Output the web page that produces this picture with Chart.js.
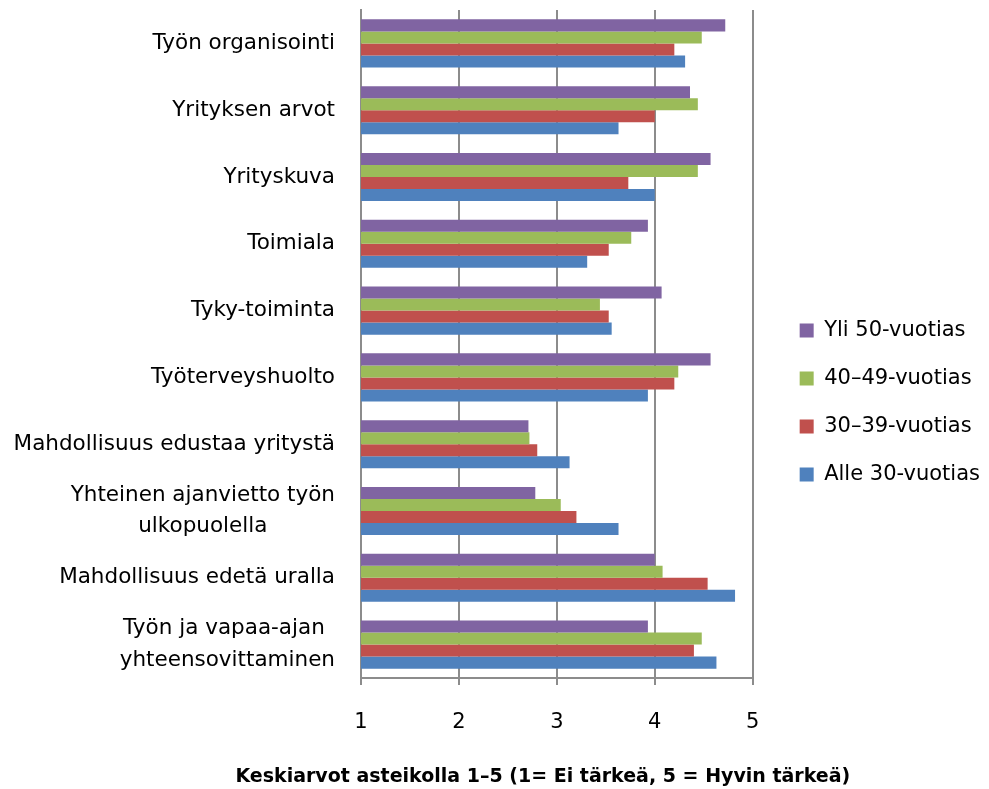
<!DOCTYPE html>
<html>
<head>
<meta charset="utf-8">
<script src="https://cdn.jsdelivr.net/npm/chart.js@4.4.1/dist/chart.umd.min.js"></script>
<style>
  html, body { margin: 0; padding: 0; background: #ffffff; }
  #wrap { width: 989px; height: 789px; }
</style>
</head>
<body>
<div id="wrap"><canvas id="chart" width="989" height="789"></canvas></div>
<script>
// Categories, top to bottom (multi-line labels as arrays)
const categories = [
  'Työn organisointi',
  'Yrityksen arvot',
  'Yrityskuva',
  'Toimiala',
  'Tyky-toiminta',
  'Työterveyshuolto',
  'Mahdollisuus edustaa yritystä',
  ['Yhteinen ajanvietto työn', 'ulkopuolella'],
  'Mahdollisuus edetä uralla',
  ['Työn ja vapaa-ajan ', 'yhteensovittaminen']
];

const seriesNames = ['Yli 50-vuotias', '40–49-vuotias', '30–39-vuotias', 'Alle 30-vuotias'];

// Mean scores per age group
const yli50   = [4.72, 4.36, 4.57, 3.93, 4.07, 4.57, 2.71, 2.78, 4.00, 3.93];
const v40_49  = [4.48, 4.44, 4.44, 3.76, 3.44, 4.24, 2.72, 3.04, 4.08, 4.48];
const v30_39  = [4.20, 4.00, 3.73, 3.53, 3.53, 4.20, 2.80, 3.20, 4.54, 4.40];
const alle30  = [4.31, 3.63, 4.00, 3.31, 3.56, 3.93, 3.13, 3.63, 4.82, 4.63];

const xTicks = [1, 2, 3, 4, 5];
const axisTitle = 'Keskiarvot asteikolla 1–5 (1= Ei tärkeä, 5 = Hyvin tärkeä)';

const FONT = '"DejaVu Sans", "Liberation Sans", sans-serif';
const GRID = '#8c8c8c';
const colors = ['#8064A2', '#9BBB59', '#C0504D', '#4F81BD'];
const seriesValues = [yli50, v40_49, v30_39, alle30];

// Category labels (each multi-line label centred as a block, block right-aligned)
// and the value-axis title, which is wider than the plot itself
const axisTexts = {
  id: 'axisTexts',
  afterDraw(chart) {
    const scale = chart.scales.y;
    const ctx = chart.ctx;
    const right = scale.right - 26;
    const lineH = 31.5;
    ctx.save();
    ctx.font = '21.5px ' + FONT;
    ctx.fillStyle = '#000000';
    ctx.textBaseline = 'middle';
    ctx.textAlign = 'center';
    categories.forEach((label, i) => {
      const lines = Array.isArray(label) ? label : [label];
      const w = Math.max(...lines.map(l => ctx.measureText(l).width));
      const cx = right - w / 2;
      const y0 = scale.getPixelForTick(i) - (lines.length - 1) * lineH / 2;
      lines.forEach((l, k) => ctx.fillText(l, cx, y0 + k * lineH));
    });

    const xs = chart.scales.x;
    ctx.font = 'bold 19px ' + FONT;
    ctx.textBaseline = 'alphabetic';
    ctx.fillText(axisTitle, (xs.left + xs.right) / 2 - 14, xs.top + 104);
    ctx.restore();
  }
};

new Chart(document.getElementById('chart'), {
  type: 'bar',
  data: {
    labels: categories,
    datasets: seriesNames.map((name, i) => ({
      label: name,
      data: seriesValues[i],
      backgroundColor: colors[i],
      borderWidth: 0,
      xAxisID: 'x',
      yAxisID: 'y',
      categoryPercentage: 0.72,
      barPercentage: 1.0
    }))
  },
  options: {
    indexAxis: 'y',
    responsive: false,
    animation: false,
    devicePixelRatio: 1,
    layout: { padding: { top: 10, right: -1, bottom: -6, left: 0 } },
    scales: {
      x: {
        type: 'linear',
        position: 'bottom',
        min: xTicks[0],
        max: xTicks[xTicks.length - 1],
        afterBuildTicks(scale) { scale.ticks = xTicks.map(v => ({ value: v })); },
        ticks: { color: '#000000', font: { family: FONT, size: 21 }, padding: 25 },
        grid: { color: GRID, lineWidth: 2, tickLength: 7, drawTicks: true },
        border: { color: GRID, width: 2 },
        afterFit(scale) { scale.height = 117; }
      },
      y: {
        type: 'category',
        position: 'left',
        grid: { display: false },
        border: { display: true, color: GRID, width: 2 },
        ticks: { display: false },
        afterFit(scale) { scale.width = 361; }
      },
      y2: {
        type: 'linear',
        position: 'right',
        display: true,
        grid: { display: false },
        border: { display: false },
        ticks: { display: false },
        afterFit(scale) { scale.width = 20; }
      }
    },
    plugins: {
      legend: {
        position: 'right',
        align: 'center',
        maxWidth: 300,
        labels: {
          boxWidth: 14,
          boxHeight: 14,
          padding: 27,
          color: '#000000',
          font: { family: FONT, size: 21 }
        }
      },
      tooltip: { enabled: false },
      title: { display: false }
    }
  },
  plugins: [axisTexts]
});
</script>
</body>
</html>
